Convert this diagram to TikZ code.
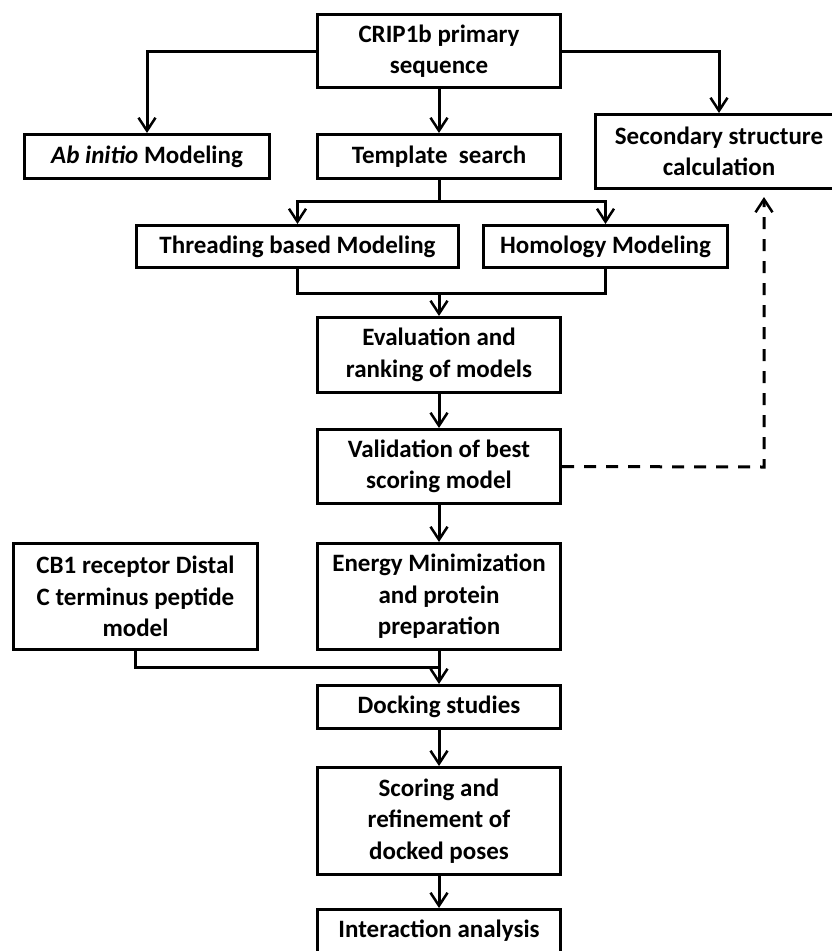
\documentclass[tikz,border=0pt]{standalone}
\usepackage{fontspec}
\setmainfont{Carlito}
\usetikzlibrary{arrows.meta, positioning}

\begin{document}
\begin{tikzpicture}[
    x=1pt, y=-1pt,
    stage/.style = {
      rectangle, draw=black, line width=3pt,
      align=center, inner sep=0pt,
      minimum width=243pt,
      font=\fontsize{25}{31.5}\selectfont\bfseries
    },
    arrow/.style = {-{Straight Barb[length=13pt, width=17pt, line width=2.5pt]}, line width=3pt},
    link/.style  = {line width=3pt},
    darrow/.style = {arrow, dash pattern=on 12pt off 10pt}
  ]
  \useasboundingbox (0,0) rectangle (832,951);
  \clip (0,0) rectangle (832,951);

  % top row
  \node[stage, minimum height=73pt] at (439, 51)    (crip)   {CRIP1b primary\\sequence};
  \node[stage, minimum width=245pt, minimum height=44pt] at (147, 156.5) (abinit) {\textit{Ab initio} Modeling};
  \node[stage, minimum height=44pt] at (439, 156.5) (templ)  {Template\ \ search};
  \node[stage, minimum width=290pt, minimum height=74pt] at (740, 151.5) (second) {\hspace*{-42pt}Secondary structure\\\hspace*{-42pt}calculation};

  % modeling
  \node[stage, minimum width=322pt, minimum height=42pt] at (297.5, 246.5) (thread) {Threading based Modeling};
  \node[stage, minimum width=244pt, minimum height=42pt] at (605.5, 246.5) (homol)  {Homology Modeling};

  % main column
  \node[stage, minimum height=75pt]  at (439, 355)   (evalu)   {Evaluation and\\ranking of models};
  \node[stage, minimum height=74pt]  at (439, 466.5) (valid)   {Validation of best\\scoring model};
  \node[stage, minimum height=106pt] at (439, 596.5) (energy)  {Energy Minimization\\and protein\\preparation};
  \node[stage, minimum width=244pt, minimum height=106pt] at (135.5, 596.5) (peptide) {CB1 receptor Distal\\C terminus peptide\\model};
  \node[stage, minimum height=43pt]  at (439, 707)   (dock)    {Docking studies};
  \node[stage, minimum height=107pt] at (439, 821)   (scoring) {Scoring and\\refinement of\\docked poses};
  \node[stage, minimum height=43pt]  at (439, 931)   (interact){Interaction analysis};

  % junctions
  \coordinate (split)    at (439, 201);
  \coordinate (merge)    at (439, 293);
  \coordinate (dockjoin) at (439, 667);
  \coordinate (secin)    at (719, 113);
  \coordinate (backup)   at (764, 467);

  % arrows
  \draw[arrow] (crip.west) -| (abinit.north);
  \draw[arrow] (crip.east) -| (secin);
  \draw[arrow] (crip) -- (templ);
  \draw[link]  (templ.south) -- (split);
  \draw[arrow] (split) -| (thread.north);
  \draw[arrow] (split) -| (homol.north);
  \draw[link]  (thread.south) |- (merge) -| (homol.south);
  \draw[arrow] (merge) -- (evalu.north);
  \draw[arrow] (evalu) -- (valid);
  \draw[arrow] (valid) -- (energy);
  \draw[link]  (peptide.south) |- (dockjoin);
  \draw[arrow] (energy) -- (dock);
  \draw[arrow] (dock) -- (scoring);
  \draw[arrow] (scoring) -- (interact);
  \draw[darrow, shorten >=7pt] (valid.east) -- (backup) -- (backup |- second.south);
\end{tikzpicture}
\end{document}
